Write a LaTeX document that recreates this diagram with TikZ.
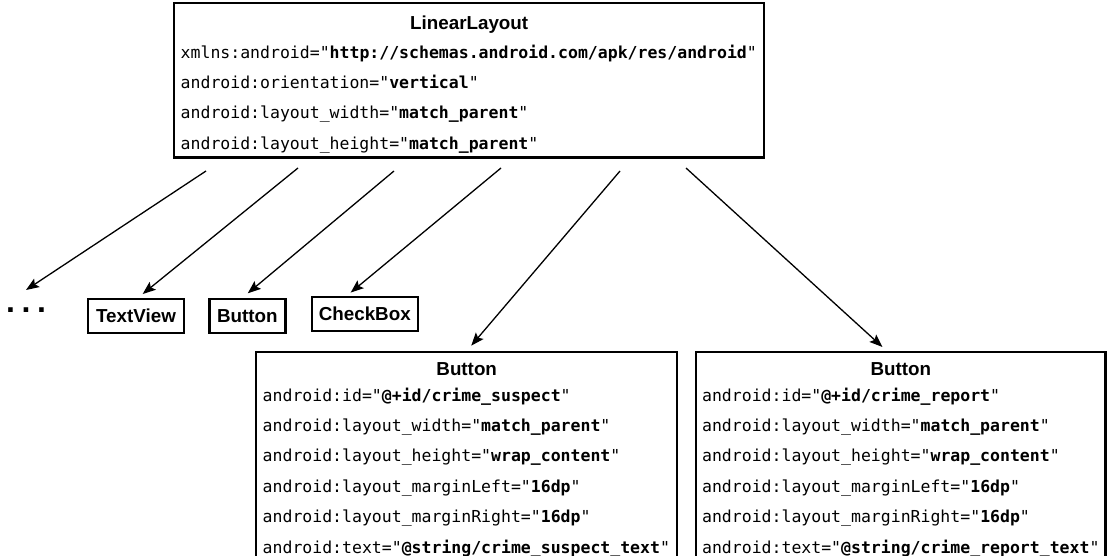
\documentclass[tikz,border=0pt]{standalone}
\usepackage{fontspec}
\setmainfont{Liberation Sans}
\setmonofont{DejaVu Sans Mono}
\usepackage{tikz}
\usetikzlibrary{%
  arrows.meta,
  positioning}
\tikzset{
  %% XML element boxes
  xmlbox/.style={
    rectangle, draw=black, line width=2.4pt,
    inner xsep=6.5pt, inner ysep=0pt, align=left,
    font=\fontsize{16.5}{30.4}\selectfont\ttfamily},
  %% Child tag boxes
  tagbox/.style={
    rectangle, draw=black, line width=2.4pt,
    inner xsep=2pt, minimum height=34pt,
    font=\fontsize{18.8}{20}\selectfont\bfseries},
  %% Arrows
  arrow/.style={-{Stealth[length=13pt,width=10pt,inset=2.5pt]}, line width=1.3pt, black},
}
\newcommand{\xmlattr}[2]{#1="\textbf{#2}"}
\newcommand{\xmltag}[2]{\noindent\makebox[\hsize]{\fontsize{18.8}{20}\rmfamily\bfseries\rule{0pt}{#1}#2}}
\newcommand{\lastline}{\rule[-8pt]{0pt}{8pt}}

\begin{document}
\begin{tikzpicture}[x=1pt, y=-1pt]

  \useasboundingbox (0,0) rectangle (1109,556);
  \clip (0,0) rectangle (1109,556);

  \node[xmlbox, text width=577pt, anchor=north west] (lin) at (173,2)
        {\xmltag{26pt}{LinearLayout}\\[-1.4pt]
         \xmlattr{xmlns:android}{http://schemas.android.com/apk/res/android}\\
         \xmlattr{android:orientation}{vertical}\\
         \xmlattr{android:layout\_width}{match\_parent}\\
         \xmlattr{android:layout\_height}{match\_parent}\lastline};

  \node[font=\fontsize{32}{32}\selectfont\bfseries, inner ysep=18pt, anchor=north] (more)
        at (26,290) {.\kern6.6pt.\kern6.6pt.};

  \node[tagbox, minimum width=96pt] (tv) at (136,316) {TextView};
  \node[tagbox, minimum width=76pt, right=23pt of tv] (bt) {Button};
  \node[tagbox, minimum width=106pt, right=24pt of bt, yshift=2pt] (cb) {CheckBox};

  \node[xmlbox, text width=408pt, anchor=north west] (sus) at (255,351)
        {\xmltag{23pt}{Button}\\[-4.6pt]
         \xmlattr{android:id}{@+id/crime\_suspect}\\
         \xmlattr{android:layout\_width}{match\_parent}\\
         \xmlattr{android:layout\_height}{wrap\_content}\\
         \xmlattr{android:layout\_marginLeft}{16dp}\\
         \xmlattr{android:layout\_marginRight}{16dp}\\
         \xmlattr{android:text}{@string/crime\_suspect\_text}\lastline};

  \node[xmlbox, text width=397.5pt, inner xsep=6pt, right=16.5pt of sus] (rep)
        {\xmltag{23pt}{Button}\\[-4.6pt]
         \xmlattr{android:id}{@+id/crime\_report}\\
         \xmlattr{android:layout\_width}{match\_parent}\\
         \xmlattr{android:layout\_height}{wrap\_content}\\
         \xmlattr{android:layout\_marginLeft}{16dp}\\
         \xmlattr{android:layout\_marginRight}{16dp}\\
         \xmlattr{android:text}{@string/crime\_report\_text}\lastline};

  %% Arrow tails (free ends under the parent box)
  \coordinate (s1) at (206,171);
  \coordinate (s2) at (298,168);
  \coordinate (s3) at (394,171);
  \coordinate (s4) at (501,168);
  \coordinate (s5) at (620,171);
  \coordinate (s6) at (686,168);

  %% Children
  \draw[arrow] (s1) -- (more.north);
  \draw[arrow, shorten >=6pt] (s2) -- ([xshift=2pt]tv.north);
  \draw[arrow, shorten >=7pt] (s3) -- ([xshift=-5pt]bt.north);
  \draw[arrow, shorten >=5pt] (s4) -- ([xshift=-18pt]cb.north);
  \draw[arrow, shorten >=7pt] (s5) -- (sus.north);
  \draw[arrow, shorten >=6pt] (s6) -- ([xshift=-14pt]rep.north);

\end{tikzpicture}
\end{document}
